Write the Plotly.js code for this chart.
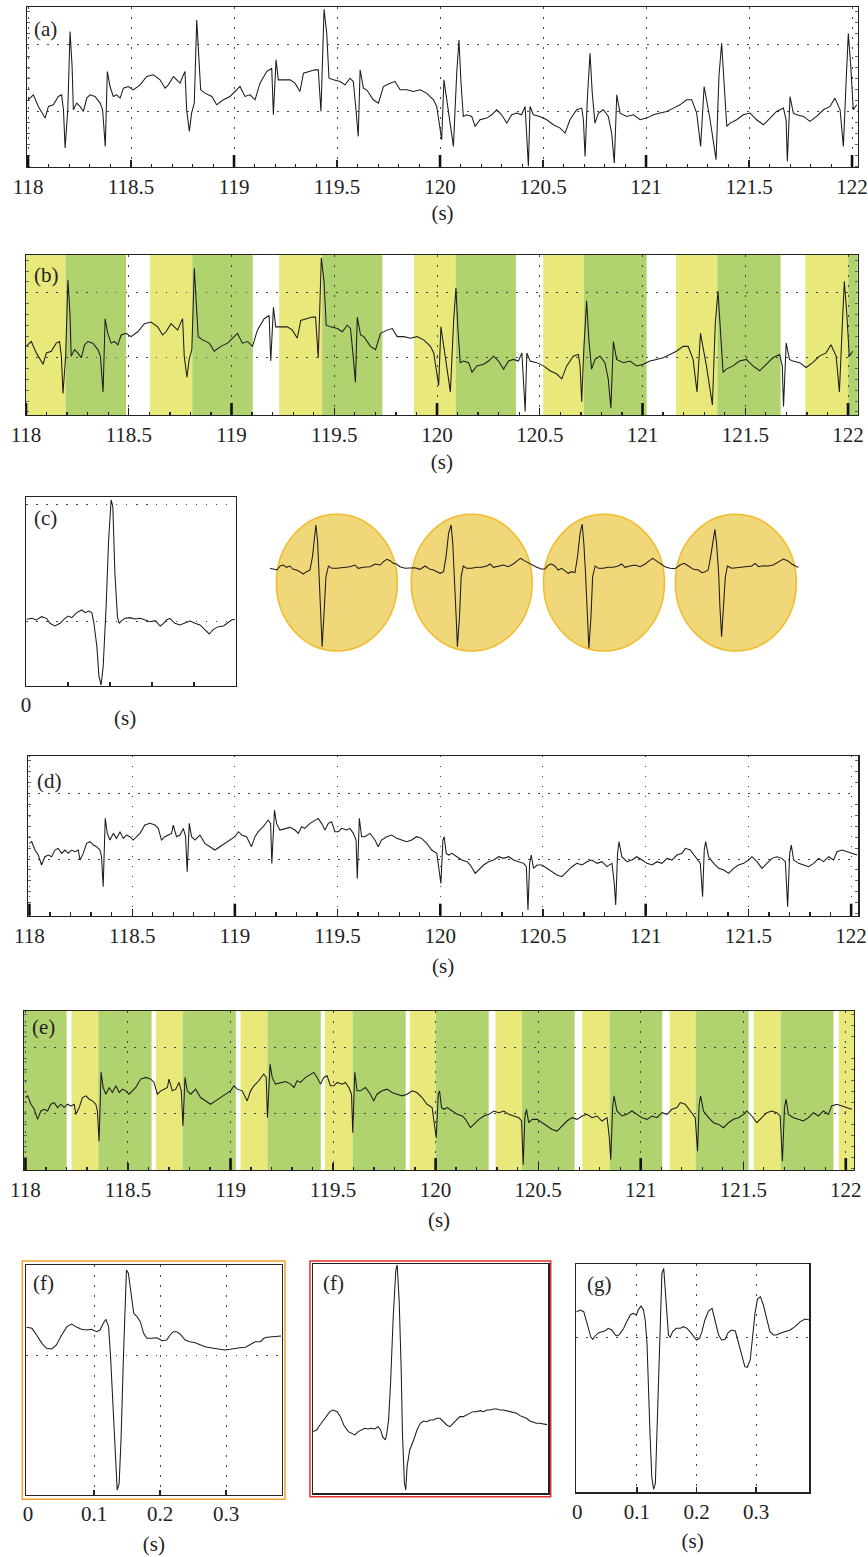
<!DOCTYPE html>
<html><head><meta charset="utf-8">
<script src="https://cdn.plot.ly/plotly-3.0.1.min.js"></script>
<style>html,body{margin:0;padding:0;background:#fff}#chart{width:868px;height:1557px}</style>
</head><body><div id="chart"></div>
<script>
// ---------- DATA ----------
// Raw ECG segment, panels (a) and (b): time (s) and amplitude (arbitrary units)
const tA = [118.000,118.026,118.050,118.083,118.099,118.123,118.147,118.163,118.172,118.180,
118.193,118.204,118.214,118.220,118.236,118.252,118.269,118.285,118.301,118.325,
118.350,118.362,118.375,118.385,118.398,118.414,118.430,118.447,118.463,118.487,
118.511,118.544,118.576,118.608,118.641,118.665,118.681,118.706,118.722,118.738,
118.751,118.762,118.770,118.783,118.794,118.807,118.819,118.828,118.838,118.859,
118.892,118.916,118.948,118.981,119.013,119.029,119.053,119.078,119.102,119.126,
119.159,119.183,119.191,119.204,119.215,119.239,119.272,119.296,119.320,119.337,
119.361,119.393,119.409,119.422,119.437,119.450,119.461,119.482,119.515,119.539,
119.563,119.579,119.592,119.603,119.612,119.628,119.644,119.676,119.701,119.725,
119.757,119.782,119.806,119.838,119.871,119.903,119.935,119.968,119.984,
120.008,120.019,120.032,120.045,120.065,120.081,120.092,120.102,120.113,120.129,
120.154,120.170,120.194,120.227,120.251,120.275,120.299,120.324,120.348,120.372,
120.396,120.413,120.429,120.437,120.453,120.485,120.518,120.550,120.583,120.607,
120.631,120.663,120.688,120.696,120.704,120.715,120.728,120.739,120.752,120.769,
120.793,120.817,120.833,120.846,120.858,120.874,120.906,120.939,120.971,121.003,
121.036,121.068,121.100,121.133,121.165,121.197,121.222,121.246,121.265,121.282,
121.294,121.311,121.340,121.354,121.367,121.379,121.392,121.408,121.440,121.472,
121.505,121.537,121.570,121.602,121.634,121.667,121.680,121.686,121.699,121.715,
121.731,121.764,121.796,121.828,121.861,121.893,121.917,121.942,121.958,121.971,
121.982,121.994,122.006,122.023];
const vA = [35,50,15,-20,15,20,45,50,5,-110,
5,240,135,5,25,15,0,40,50,45,
25,5,-105,120,75,45,50,40,70,75,
65,80,105,110,95,70,80,105,95,85,
105,120,5,-60,-5,25,275,185,65,55,
45,20,35,45,65,75,45,50,35,85,
120,130,-10,155,95,95,95,85,60,115,
120,125,125,0,307,235,100,95,90,80,
100,90,5,-75,125,70,65,35,25,75,
85,90,65,65,60,65,55,35,15,
-85,95,35,-15,-105,115,215,85,-15,-10,
-15,-45,-25,-20,-10,5,-10,-35,-10,-5,
-10,15,-165,15,-10,-15,-25,-40,-50,-65,
-25,5,10,-25,-135,35,175,55,-35,-5,
5,-15,-65,-155,50,-5,-15,-10,-25,-20,
-10,-5,0,10,20,35,35,-5,-105,75,
35,-25,-145,105,205,85,-45,-35,-25,-10,
-5,-25,-40,-20,0,10,-25,-150,45,-5,
-10,-15,-30,-15,5,15,40,5,-105,85,
235,135,5,20];

// Filtered ECG segment, panels (d) and (e)
const tD = [118.000,118.011,118.027,118.043,118.059,118.075,118.092,118.108,118.124,118.140,
118.157,118.173,118.189,118.205,118.222,118.238,118.246,118.262,118.278,118.295,
118.311,118.327,118.343,118.351,118.359,118.369,118.379,118.392,118.408,118.424,
118.441,118.457,118.473,118.489,118.505,118.522,118.538,118.562,118.587,118.611,
118.627,118.643,118.660,118.676,118.692,118.700,118.716,118.733,118.749,118.760,
118.768,118.778,118.789,118.806,118.830,118.854,118.879,118.903,118.927,118.952,
118.976,119.000,119.017,119.033,119.057,119.081,119.098,119.114,119.138,119.162,
119.174,119.180,119.193,119.203,119.219,119.244,119.268,119.293,119.309,119.325,
119.341,119.366,119.390,119.406,119.422,119.439,119.455,119.471,119.487,119.504,
119.520,119.544,119.560,119.577,119.590,119.596,119.606,119.617,119.633,119.658,
119.682,119.698,119.714,119.739,119.763,119.788,119.812,119.836,119.861,119.885,
119.909,119.934,119.958,119.983,
120.003,120.013,120.019,120.029,120.041,120.057,120.081,120.105,120.130,120.146,
120.170,120.187,120.211,120.235,120.260,120.284,120.308,120.333,120.357,120.381,
120.406,120.419,120.427,120.435,120.443,120.454,120.471,120.495,120.519,120.544,
120.568,120.592,120.617,120.641,120.665,120.690,120.714,120.738,120.763,120.787,
120.811,120.836,120.847,120.854,120.863,120.870,120.884,120.909,120.933,120.957,
120.982,121.006,121.031,121.055,121.079,121.104,121.128,121.152,121.177,121.193,
121.217,121.241,121.266,121.277,121.285,121.292,121.306,121.331,121.355,121.380,
121.404,121.428,121.452,121.477,121.501,121.517,121.542,121.566,121.590,121.615,
121.639,121.663,121.680,121.691,121.701,121.709,121.720,121.745,121.769,121.793,
121.818,121.842,121.866,121.891,121.915,121.931,121.956,121.980,122.004,122.029];
const vD = [47,52,27,12,-18,7,12,7,27,32,
17,27,17,27,22,27,-3,17,47,52,
42,37,27,7,-83,122,77,57,77,62,
82,62,72,67,57,67,77,102,107,102,
92,57,67,72,77,102,67,72,92,67,
-38,107,67,57,72,47,37,27,37,47,
57,67,82,72,67,37,67,82,97,117,
107,-13,147,107,87,92,95,87,77,97,
92,107,117,122,107,87,107,112,82,82,
92,87,92,77,57,-58,122,67,67,77,
57,37,57,67,72,62,57,52,57,67,
62,47,27,17,
-73,57,67,17,12,17,7,-3,-8,-18,
-43,-33,-18,-8,-3,7,2,7,-3,-8,
-13,-23,-153,-13,12,-28,-18,-18,-28,-38,
-48,-53,-38,-23,-13,-18,-8,-3,-13,-8,
-23,-13,-73,-138,17,52,7,-8,-3,7,
-3,-13,-18,-8,-13,2,-3,12,17,32,
27,7,-13,-113,27,52,7,-13,-28,-33,
-43,-28,-18,-13,-3,7,-8,-28,-13,2,
7,2,-8,-143,17,42,-3,-13,-18,-23,
-13,2,-8,7,-3,22,27,22,17,12];

// Panel (b) segmentation bands (Y = yellow, G = green)
const bandStartB = [118.000,118.193,118.603,118.809,119.232,119.441,119.888,120.091,120.517,120.715,121.163,121.364,121.792,122.001];
const bandEndB   = [118.193,118.487,118.809,119.103,119.441,119.734,120.091,120.384,120.715,121.020,121.364,121.672,122.001,122.060];
const bandKindB  = ['Y','G','Y','G','Y','G','Y','G','Y','G','Y','G','Y','G'];
// Panel (e) segmentation bands
const bandStartE = [117.990,118.225,118.355,118.636,118.766,119.049,119.180,119.460,119.595,119.874,120.000,120.292,120.421,120.715,120.848,121.141,121.268,121.550,121.682,121.966];
const bandEndE   = [118.201,118.355,118.615,118.766,119.026,119.180,119.440,119.595,119.854,120.000,120.259,120.421,120.678,120.848,121.105,121.268,121.526,121.682,121.940,122.050];
const bandKindE  = ['G','Y','G','Y','G','Y','G','Y','G','Y','G','Y','G','Y','G','Y','G','Y','G','Y'];

// Panel (c): template beat
const tC = [0.002,0.014,0.025,0.037,0.049,0.057,0.069,0.081,0.093,0.101,
0.109,0.121,0.133,0.141,0.149,0.157,0.162,0.169,0.174,0.179,
0.184,0.191,0.197,0.203,0.207,0.212,0.218,0.222,0.228,0.236,
0.248,0.260,0.272,0.284,0.296,0.308,0.320,0.328,0.335,0.343,
0.355,0.367,0.379,0.391,0.403,0.415,0.427,0.437,0.447,0.459,
0.471,0.483,0.490,0.498];
const vC = [7,10,5,15,10,-5,-13,-5,10,17,
12,27,35,27,32,27,-5,-75,-165,-190,
-135,45,245,365,345,145,15,-5,3,10,
12,8,10,5,0,3,-13,-5,5,10,
-5,-10,-5,2,-5,-10,-25,-37,-23,-15,
-13,0,5,7];

// Four extracted beats shown in the circles
const tBeat = [0.024,0.032,0.040,0.048,0.056,0.063,0.071,0.079,0.087,0.095,
0.103,0.111,0.119,0.125,0.129,0.133,0.137,0.140,0.144,0.148,
0.152,0.157,0.163,0.171,0.183,0.198,0.214,0.226,0.234,0.246,
0.262,0.274,0.286,0.294,0.302,0.310,0.317,0.325,0.333,0.345,
0.357,0.369,0.381,0.393,
0.405,0.413,0.421,0.429,0.437,0.443,0.449,0.455,0.459,0.463,
0.467,0.470,0.475,0.479,0.484,0.492,0.504,0.516,0.527,0.540,
0.548,0.556,0.567,0.579,0.591,0.603,0.613,0.621,0.629,0.637,
0.647,0.659,0.671,0.679,
0.687,0.694,0.702,0.710,0.718,0.726,0.734,0.742,0.750,0.756,
0.762,0.767,0.771,0.775,0.779,0.783,0.788,0.792,0.798,0.806,
0.817,0.829,0.841,0.853,0.861,0.869,0.881,0.893,0.905,0.917,
0.927,0.935,0.943,0.952,0.964,0.976,0.988,
1.000,1.010,1.020,1.032,1.044,1.052,1.060,1.067,1.073,1.078,
1.083,1.087,1.092,1.095,1.099,1.103,1.108,1.113,1.123,1.135,
1.148,1.160,1.171,1.179,1.187,1.198,1.210,1.222,1.234,1.246,
1.256,1.266,1.278,1.282];
const vBeat = [0,-3,-5,7,10,3,7,-3,-5,-10,
-17,-10,-5,35,95,130,85,-5,-145,-235,
-145,-25,7,0,0,3,5,10,0,3,
5,13,10,20,27,23,15,13,5,0,
0,2,-3,7,
-3,-5,-10,-15,-10,35,105,130,75,-15,
-145,-235,-145,-25,7,0,0,3,3,7,
13,3,7,10,5,13,23,30,23,17,
10,3,-3,-1,
10,13,7,-5,0,-7,-15,-10,-13,35,
105,133,75,-15,-145,-240,-145,-25,7,0,
0,3,3,7,13,3,7,10,5,13,
23,30,23,15,5,0,-1,
10,15,7,-3,-5,-13,-10,-5,35,85,
117,75,-15,-115,-205,-125,-25,7,0,2,
3,5,7,15,5,8,7,10,20,28,
23,13,5,3];
const beatCenters = [0.183,0.504,0.819,1.133];

// Panel (f), orange frame
const tF1 = [-0.002,0.006,0.013,0.021,0.028,0.036,0.043,0.051,0.059,0.066,
0.074,0.081,0.089,0.096,0.104,0.109,0.114,0.118,0.122,0.125,
0.129,0.133,0.135,0.138,0.141,0.144,0.147,0.149,0.152,0.156,
0.160,0.165,0.170,0.175,0.180,0.187,0.195,0.203,0.210,0.215,
0.220,0.225,0.230,0.238,0.245,0.253,0.261,0.268,0.276,0.283,
0.291,0.298,0.306,0.314,0.321,0.329,0.336,0.344,0.352,0.357,
0.362,0.369,0.377,0.383];
const vF1 = [83,80,60,35,20,18,30,60,85,93,
83,77,75,77,70,75,95,107,85,-5,
-165,-335,-405,-385,-245,-35,115,255,245,175,
125,115,100,65,50,50,52,43,45,60,
70,70,63,45,40,37,30,25,22,20,
18,15,17,20,22,23,30,40,40,50,
53,55,57,57];

// Panel (f), red frame
const tF2 = [0.000,0.006,0.011,0.019,0.026,0.031,0.037,0.042,0.047,0.054,
0.059,0.064,0.069,0.074,0.079,0.084,0.089,0.094,0.099,0.103,
0.106,0.110,0.112,0.115,0.118,0.122,0.126,0.128,0.131,0.134,
0.136,0.139,0.141,0.143,0.147,0.153,0.158,0.163,0.168,0.173,
0.178,0.183,0.188,0.193,0.198,0.203,0.208,0.213,0.218,0.223,
0.228,0.233,0.238,0.243,0.248,0.254,0.259,0.264,0.269,0.274,
0.279,0.284,0.289,0.294,0.299,0.304,0.309,0.314,0.319,0.324,
0.329,0.334,0.339,0.344,0.349,0.355];
const vF2 = [-5,0,15,35,55,60,55,40,15,-5,
-10,-15,-5,0,5,3,5,3,10,0,
-20,-30,-15,30,140,340,480,495,390,190,
-10,-160,-180,-110,-60,-30,0,20,27,25,
30,30,35,35,25,15,10,20,30,40,
40,45,50,55,55,58,55,60,60,63,
63,60,60,57,55,53,50,43,40,35,
27,23,20,20,18,16];

// Panel (g)
const tG = [-0.001,0.005,0.011,0.015,0.019,0.023,0.026,0.030,0.036,0.041,
0.047,0.052,0.058,0.064,0.068,0.072,0.078,0.083,0.089,0.094,
0.099,0.103,0.107,0.111,0.114,0.117,0.119,0.122,0.125,0.128,
0.131,0.133,0.136,0.139,0.142,0.145,0.147,0.150,0.153,0.156,
0.160,0.166,0.173,0.178,0.184,0.189,0.195,0.200,0.205,0.209,
0.214,0.220,0.226,0.231,0.237,0.242,0.248,0.253,0.259,0.265,
0.270,0.276,0.281,0.285,0.290,0.294,0.298,0.302,0.307,0.312,
0.318,0.323,0.329,0.334,0.340,0.348,0.357,0.365,0.374,0.382,
0.389];
const vG = [77,82,77,52,22,0,-6,4,14,17,
20,27,22,7,4,12,27,47,67,72,
67,84,94,82,52,-18,-138,-288,-418,-456,
-438,-318,-138,62,192,207,162,82,7,0,
17,27,27,32,27,17,2,-8,-3,17,
52,79,87,52,7,-8,-6,14,22,19,
-13,-58,-88,-90,-68,2,72,114,122,97,
52,17,7,7,12,17,22,32,47,55,
52];

const secTicks = [118,119,120,121,122];

// ---------- LAYOUT ----------
const W = 868, H = 1557;
const FONT = "'Liberation Serif','DejaVu Serif','Times New Roman',serif";
const INK = '#222';
const YEL = 'rgb(233,232,122)', GRN = 'rgb(177,211,111)';
const DOTS = '1.5px,8.5px';
function dx(a, b) { return [a / W, b / W]; }
function dy(top, bottom) { return [1 - bottom / H, 1 - top / H]; }
const tf = {family: FONT, size: 21, color: INK};

function longX(dom, range, anchor, standoff) {
  return {domain: dom, range: range, anchor: anchor, showline: true, mirror: true,
    linecolor: INK, linewidth: 1.2, tickmode: 'linear', tick0: 118, dtick: 0.5,
    ticks: 'inside', ticklen: 7, tickwidth: 1.3, tickcolor: INK,
    showgrid: true, gridcolor: '#444', griddash: DOTS, gridwidth: 1, zeroline: false,
    minor: {tick0: 118, dtick: 0.1, ticks: 'inside', ticklen: 3.5, tickwidth: 1.3, tickcolor: INK, showgrid: false},
    tickfont: tf, ticklabelstandoff: 1,
    title: {text: '(s)', font: tf, standoff: standoff}, fixedrange: true};
}
function longY(dom, range, anchor, grid) {
  return {domain: dom, range: range, anchor: anchor, showline: true, mirror: 'ticks',
    linecolor: INK, linewidth: 1.2, tickmode: 'linear', tick0: 0, dtick: grid,
    ticks: '', showticklabels: false, showgrid: true, gridcolor: '#444', griddash: DOTS,
    zeroline: false,
    minor: {tick0: 0, dtick: grid / 6, ticks: 'inside', ticklen: 3, tickwidth: 1, tickcolor: '#666', showgrid: false},
    fixedrange: true};
}
function shortX(dom, range, anchor, withLabels) {
  const o = {domain: dom, range: range, anchor: anchor, showline: true, mirror: true,
    linecolor: INK, linewidth: 1.2, zeroline: false, fixedrange: true, showgrid: false};
  if (withLabels) {
    Object.assign(o, {tickmode: 'array', tickvals: [0, 0.1, 0.2, 0.3], ticktext: ['0', '0.1', '0.2', '0.3'],
      ticks: '', tickfont: tf, ticklabelstandoff: 0,
      minor: {tickmode: 'array', tickvals: [0.1, 0.2, 0.3], ticks: 'inside', ticklen: 5, tickwidth: 1.8,
        tickcolor: INK, showgrid: true, gridcolor: '#444', griddash: DOTS, gridwidth: 1},
      title: {text: '(s)', font: tf, standoff: 10}});
  } else {
    Object.assign(o, {showticklabels: false, ticks: ''});
  }
  return o;
}
function shortY(dom, range, anchor, grid) {
  return {domain: dom, range: range, anchor: anchor, showline: true, mirror: true,
    linecolor: INK, linewidth: 1.2, zeroline: false, fixedrange: true, ticks: '',
    showticklabels: false, tickmode: 'array', tickvals: grid, showgrid: grid.length > 0,
    gridcolor: '#444', griddash: DOTS, gridwidth: 1};
}

const line = {color: '#1c1c1c', width: 1.05};
const tr = (x, y, xa, ya) => ({type: 'scatter', mode: 'lines', x: x, y: y, xaxis: xa, yaxis: ya,
  line: line, hoverinfo: 'skip', showlegend: false});

const data = [
  tr(tA, vA, 'x', 'y'),
  tr(tA, vA, 'x2', 'y2'),
  tr(tC, vC, 'x3', 'y3'),
  tr(tBeat, vBeat, 'x4', 'y4'),
  tr(tD, vD, 'x5', 'y5'),
  tr(tD, vD, 'x6', 'y6'),
  tr(tF1, vF1, 'x7', 'y7'),
  tr(tF2, vF2, 'x8', 'y8'),
  tr(tG, vG, 'x9', 'y9')
];

const shapes = [];
function addBands(st, en, kd, xr, yr) {
  for (let i = 0; i < st.length; i++) {
    shapes.push({type: 'rect', xref: xr, yref: yr + ' domain', x0: st[i], x1: en[i], y0: 0, y1: 1,
      fillcolor: kd[i] === 'Y' ? YEL : GRN, line: {width: 0}, layer: 'below'});
  }
}
addBands(bandStartB, bandEndB, bandKindB, 'x2', 'y2');
addBands(bandStartE, bandEndE, bandKindE, 'x6', 'y6');
[['x', 'y'], ['x2', 'y2'], ['x5', 'y5'], ['x6', 'y6']].forEach(p => {
  secTicks.forEach(s => shapes.push({type: 'line', xref: p[0], yref: p[1] + ' domain',
    x0: s, x1: s, y0: 0, y1: 0.075, line: {color: '#111', width: 2.6}, layer: 'above'}));
});
const CIRC_HW = 0.144, CIRC_Y0 = -248, CIRC_Y1 = 162;
beatCenters.forEach(c => shapes.push({type: 'circle', xref: 'x4', yref: 'y4',
  x0: c - CIRC_HW, x1: c + CIRC_HW, y0: CIRC_Y0, y1: CIRC_Y1,
  fillcolor: 'rgb(240,215,122)', line: {color: 'rgb(242,186,40)', width: 1.5}, layer: 'below'}));
// coloured frames round the two (f) panels
shapes.push({type: 'rect', xref: 'paper', yref: 'paper', x0: 22.3 / W, x1: 285 / W, y0: 1 - 1499.3 / H, y1: 1 - 1261 / H,
  line: {color: 'rgb(245,160,45)', width: 1.5}, fillcolor: 'rgba(0,0,0,0)'});
shapes.push({type: 'rect', xref: 'paper', yref: 'paper', x0: 310 / W, x1: 550.7 / W, y0: 1 - 1496.7 / H, y1: 1 - 1261 / H,
  line: {color: 'rgb(232,45,45)', width: 1.5}, fillcolor: 'rgba(0,0,0,0)'});

const lab = (t, px, py, xa) => ({text: t, xref: 'paper', yref: 'paper', x: px / W, y: 1 - py / H,
  xanchor: xa || 'left', yanchor: 'middle', showarrow: false, font: tf});

const layout = {
  width: W, height: H, margin: {l: 0, r: 0, t: 0, b: 0},
  paper_bgcolor: '#fff', plot_bgcolor: 'rgba(0,0,0,0)', showlegend: false,
  font: tf,
  xaxis: longX(dx(27, 858), [117.995, 122.029], 'y', 6),
  yaxis: longY(dy(7, 167), [-167, 314], 'x', 200),
  xaxis2: longX(dx(26, 857.7), [118.0, 122.047], 'y2', 7),
  yaxis2: longY(dy(255, 415), [-176, 316], 'x2', 200),
  xaxis3: Object.assign(shortX(dx(26, 235.7), [0, 0.5], 'y3', false), {
    tickmode: 'array', tickvals: [0, 0.1, 0.2, 0.3, 0.4], ticktext: ['0', '', '', '', ''],
    ticks: 'inside', ticklen: 4, tickwidth: 2, tickcolor: INK, showticklabels: true,
    tickfont: tf, ticklabelstandoff: 0}),
  yaxis3: shortY(dy(497.3, 686), [-193, 373], 'x3', [0, 352]),
  xaxis4: {domain: dx(260, 810), range: [0, 1.3095], anchor: 'y4', visible: false, fixedrange: true},
  yaxis4: {domain: dy(505, 660), range: [-275, 190], anchor: 'x4', visible: false, fixedrange: true},
  xaxis5: longX(dx(28, 858.3), [117.993, 122.035], 'y5', 11),
  yaxis5: longY(dy(755.7, 915.7), [-170, 310], 'x5', 197),
  xaxis6: longX(dx(24, 854), [117.993, 122.04], 'y6', 10),
  yaxis6: longY(dy(1011, 1170), [-169, 305], 'x6', 197),
  xaxis7: shortX(dx(26, 281.7), [-0.003, 0.384], 'y7', true),
  yaxis7: shortY(dy(1265, 1495), [-420, 270], 'x7', [0]),
  xaxis8: shortX(dx(312.7, 548.3), [0, 0.357], 'y8', false),
  yaxis8: shortY(dy(1264, 1493.3), [-190, 498], 'x8', []),
  xaxis9: shortX(dx(576, 809.3), [-0.002, 0.389], 'y9', true),
  yaxis9: shortY(dy(1264, 1492.3), [-465, 220], 'x9', [0]),
  shapes: shapes,
  annotations: [
    lab('(a)', 32, 28.5), lab('(b)', 32, 275), lab('(c)', 32, 517.5), lab('(d)', 35, 781),
    lab('(e)', 29.5, 1027), lab('(f)', 31, 1283), lab('(f)', 320.5, 1283), lab('(g)', 585, 1284),
    lab('(s)', 125, 718, 'center')
  ]
};

Plotly.newPlot('chart', data, layout, {staticPlot: true, displayModeBar: false});
</script>
</body></html>
